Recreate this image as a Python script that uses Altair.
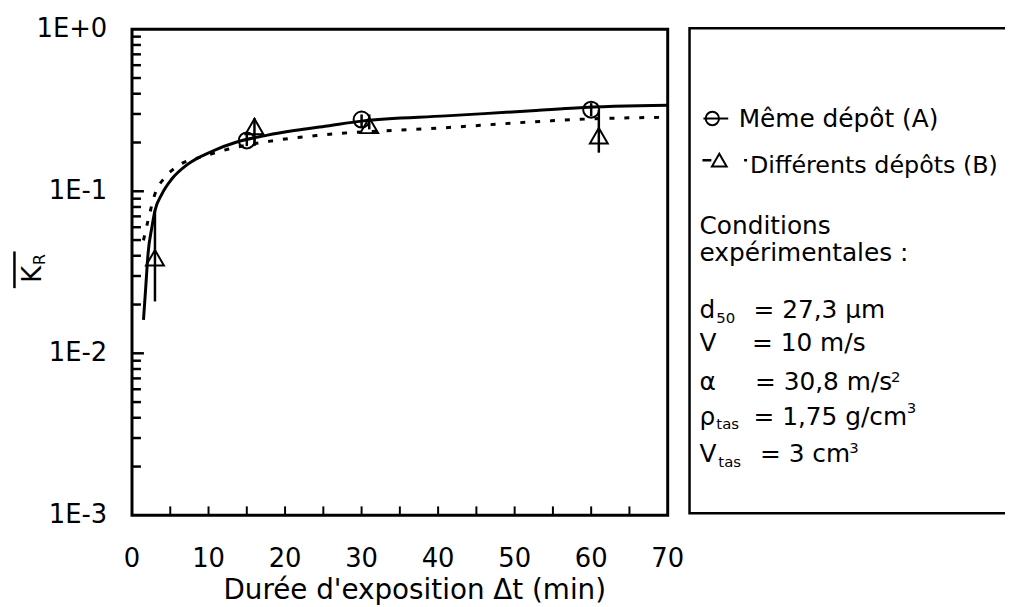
import altair as alt
import pandas as pd

FONT = "DejaVu Sans"

a_t = [15, 30, 60]
a_k = [0.206, 0.277, 0.319]
a_lo = [0.190, 0.246, 0.290]
a_hi = [0.224, 0.298, 0.350]

b_t = [3, 16, 31, 61]
b_k = [0.0389, 0.251, 0.255, 0.220]
b_lo = [0.0209, 0.190, 0.241, 0.173]
b_hi = [0.0761, 0.282, 0.298, 0.319]

fit_a_t = [1.5, 1.8, 2.1, 2.6, 3.0, 3.9, 5.2, 7.3, 10.4, 13.8, 17.7, 21.2, 25.5, 30, 41, 52.8, 58, 70]
fit_a_k = [0.0161, 0.0258, 0.0413, 0.060, 0.076, 0.096, 0.119, 0.147, 0.176, 0.202, 0.222,
           0.237, 0.253, 0.271, 0.292, 0.315, 0.327, 0.339]

fit_b_t = [1.5, 2.1, 3.0, 4.3, 6.0, 9.5, 12.5, 18.1, 24.2, 40, 53.8, 58, 70]
fit_b_k = [0.0498, 0.0661, 0.0963, 0.1217, 0.1435, 0.1652, 0.1816, 0.204, 0.2212, 0.2452,
           0.2706, 0.2773, 0.2863]

x_label_values = [0, 10, 20, 30, 40, 50, 60, 70]
x_tick_labels = ["0", "10", "20", "30", "40", "50", "60", "70"]
x_tick_values = [5, 10, 15, 20, 25, 30, 35, 40, 45, 50, 55, 60, 65]
y_label_values = [0.001, 0.01, 0.1, 1]
y_tick_labels = ["1E-3", "1E-2", "1E-1", "1E+0"]
y_major_ticks = [0.01, 0.1]
y_minor_ticks = [0.002, 0.003, 0.004, 0.005, 0.006, 0.007, 0.008, 0.009,
                 0.02, 0.03, 0.04, 0.05, 0.06, 0.07, 0.08, 0.09,
                 0.2, 0.3, 0.4, 0.5, 0.6, 0.7, 0.8, 0.9]

x_title = "Durée d'exposition \u0394t (min)"
legend_a = "Même dépôt (A)"
legend_b = "Différents dépôts (B)"

df_a = pd.DataFrame({"t": a_t, "k": a_k, "lo": a_lo, "hi": a_hi})
df_b = pd.DataFrame({"t": b_t, "k": b_k, "lo": b_lo, "hi": b_hi})
df_fa = pd.DataFrame({"t": fit_a_t, "k": fit_a_k})
df_fb = pd.DataFrame({"t": fit_b_t, "k": fit_b_k})
df_xt = pd.DataFrame({"t": x_tick_values})
df_xl = pd.DataFrame({"t": x_label_values, "lab": x_tick_labels})
df_yl = pd.DataFrame({"k": y_label_values, "lab": y_tick_labels})
df_ymaj = pd.DataFrame({"k": y_major_ticks})
df_ymin = pd.DataFrame({"k": y_minor_ticks})
dummy = pd.DataFrame({"d": [0]})

OX, OY = 133, 27
W, H = 540, 490

xs = alt.Scale(domain=[0, 70], nice=False, zero=False)
ys = alt.Scale(type="log", domain=[0.001, 1], nice=False)


def X(f):
    return alt.X(f, scale=xs, axis=None)


def Y(f):
    return alt.Y(f, scale=ys, axis=None)


layers = []

layers.append(alt.Chart(df_fa).mark_line(color="black", strokeWidth=3, interpolate="monotone").encode(
    x=X("t:Q"), y=Y("k:Q")))
layers.append(alt.Chart(df_fb).mark_line(color="black", strokeWidth=3, strokeDash=[5, 10],
                                         interpolate="monotone").encode(x=X("t:Q"), y=Y("k:Q")))

for df in (df_a, df_b):
    layers.append(alt.Chart(df).mark_rule(color="black", strokeWidth=2.5).encode(
        x=X("t:Q"), y=Y("lo:Q"), y2="hi:Q"))

layers.append(alt.Chart(df_a).mark_point(shape="circle", size=260, filled=False, color="black",
                                         strokeWidth=2, opacity=1).encode(x=X("t:Q"), y=Y("k:Q")))
layers.append(alt.Chart(df_b).mark_point(shape="triangle-up", size=324, filled=False, color="black",
                                         strokeWidth=2, opacity=1).encode(x=X("t:Q"), y=Y("k:Q")))

# tick labels through the scales
layers.append(alt.Chart(df_xl).mark_text(font=FONT, fontSize=26, color="black", align="center",
                                         baseline="top").encode(
    x=X("t:Q"), y=alt.value(H + 31), text="lab:N"))
layers.append(alt.Chart(df_yl).mark_text(font=FONT, fontSize=26, color="black", align="right",
                                         baseline="middle").encode(
    y=Y("k:Q"), x=alt.value(-25), text="lab:N"))


def txt(s, x, y, size=25, align="left", angle=0):
    kw = dict(text=s, fontSize=size, font=FONT, align=align, baseline="alphabetic", color="black")
    if angle:
        kw["angle"] = angle
    return alt.Chart(dummy).mark_text(**kw).encode(x=alt.value(x - OX), y=alt.value(y - OY))


layers.append(txt(x_title, 418, 601, size=28, align="center"))
layers.append(txt("K", 41.5, 274, size=26, align="center", angle=270))
layers.append(txt("R", 45, 259, size=16, align="center", angle=270))
layers.append(alt.Chart(dummy).mark_rule(color="black", strokeWidth=2.5).encode(
    x=alt.value(14.5 - OX), y=alt.value(251 - OY), y2=alt.value(288 - OY)))

# plot frame and legend box
layers.append(alt.Chart(dummy).mark_rect(fill="transparent", stroke="black", strokeWidth=3).encode(
    x=alt.value(0), x2=alt.value(W), y=alt.value(0), y2=alt.value(H)))
layers.append(alt.Chart(dummy).mark_rect(fill="transparent", stroke="black", strokeWidth=2.5).encode(
    x=alt.value(695 - OX), x2=alt.value(1100 - OX), y=alt.value(26 - OY), y2=alt.value(515 - OY)))

# inward ticks, drawn on top
layers.append(alt.Chart(df_xt).mark_rule(color="black", strokeWidth=2).encode(
    x=X("t:Q"), y=alt.value(H), y2=alt.value(H - 9)))
layers.append(alt.Chart(df_ymin).mark_rule(color="black", strokeWidth=2.5).encode(
    y=Y("k:Q"), x=alt.value(0), x2=alt.value(9)))
layers.append(alt.Chart(df_ymaj).mark_rule(color="black", strokeWidth=2.5).encode(
    y=Y("k:Q"), x=alt.value(0), x2=alt.value(12)))

# legend symbols
layers.append(alt.Chart(dummy).mark_rule(color="black", strokeWidth=2).encode(
    x=alt.value(709 - OX), x2=alt.value(734 - OX), y=alt.value(117 - OY)))
layers.append(alt.Chart(dummy).mark_point(shape="circle", size=180, filled=False, color="black",
                                          strokeWidth=2, opacity=1).encode(
    x=alt.value(718 - OX), y=alt.value(117 - OY)))
layers.append(alt.Chart(dummy).mark_rule(color="black", strokeWidth=2.5, strokeDash=[9, 33]).encode(
    x=alt.value(708 - OX), x2=alt.value(753 - OX), y=alt.value(159 - OY)))
layers.append(alt.Chart(dummy).mark_point(shape="triangle-up", size=220, filled=False, color="black",
                                          strokeWidth=2, opacity=1).encode(
    x=alt.value(725 - OX), y=alt.value(159 - OY)))

layers.append(txt(legend_a, 744.5, 126))
layers.append(txt(legend_b, 756, 171.5, size=24))
layers.append(txt("Conditions", 705, 233.3))
layers.append(txt("expérimentales :", 705, 260.7))

layers.append(txt("d", 705, 318.3))
layers.append(txt("50", 722, 322.7, size=15))
layers.append(txt("= 27,3 µm", 759.5, 318.3))

layers.append(txt("V", 705, 351.7))
layers.append(txt("= 10 m/s", 758, 351.7))

layers.append(txt("\u03b1", 705, 390.7))
layers.append(txt("= 30,8 m/s", 761, 390.7))
layers.append(txt("2", 898, 382.5, size=15))

layers.append(txt("\u03c1", 705, 426))
layers.append(txt("tas", 722, 430, size=15))
layers.append(txt("= 1,75 g/cm", 759.5, 426))
layers.append(txt("3", 914, 414, size=15))

layers.append(txt("V", 705, 463.3))
layers.append(txt("tas", 724, 468.3, size=15))
layers.append(txt("= 3 cm", 766, 463.3))
layers.append(txt("3", 856, 454, size=15))

chart = alt.layer(*layers).properties(
    width=W, height=H,
    background="white",
    autosize=alt.AutoSizeParams(type="none"),
    padding={"left": OX - 8, "top": OY - 8, "right": 340, "bottom": 91},
).configure_view(strokeWidth=0)

chart.save("out.html", embed_options={"renderer": "svg", "actions": False})
